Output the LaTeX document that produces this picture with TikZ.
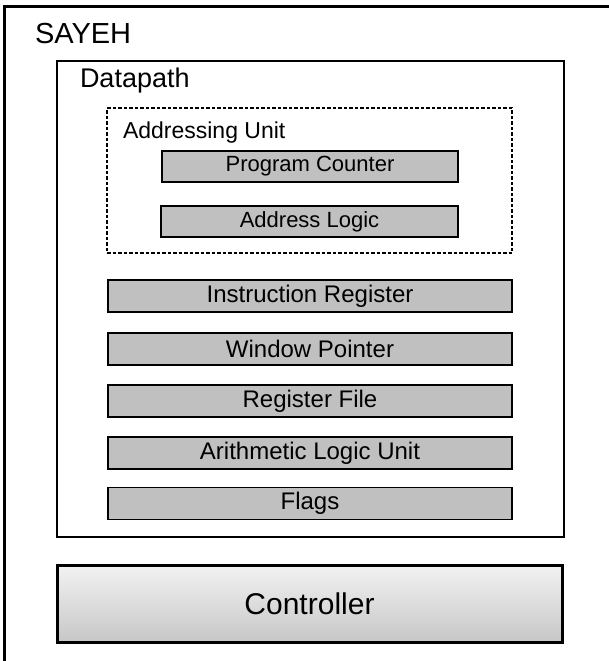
\documentclass[tikz,border=0pt]{standalone}
\usepackage{fontspec}
\setmainfont{Liberation Sans}
\begin{document}
\begin{tikzpicture}[x=1pt,y=-1pt,
  grayblk/.style={draw=black, line width=1.6pt, fill=graybox, inner sep=0pt, outer sep=0pt},
  smallblk/.style={grayblk, font=\fontsize{22}{26}\selectfont},
  bigblk/.style={grayblk, minimum width=404pt, minimum height=32pt, font=\fontsize{24}{28}\selectfont},
  lbl/.style={inner sep=0pt, outer sep=0pt, anchor=base west}
]
\definecolor{graybox}{HTML}{C0C0C0}
\useasboundingbox (0,0) rectangle (609,661);
\clip (0,0) rectangle (609,661);
% outer SAYEH box (extends past the picture edges)
\draw[line width=3pt] (4.5,6.5) rectangle (640,700);
\node[lbl, font=\fontsize{29}{33}\selectfont] (sayeh) at (35,44) {SAYEH};
% Datapath
\node[draw, line width=2pt, minimum width=507pt, minimum height=476pt, inner sep=0pt] (dp) at (310.5,299) {};
\node[lbl, font=\fontsize{27}{31}\selectfont] (dplbl) at (80,87) {Datapath};
% Addressing Unit
\node[draw, line width=1.3pt, dash pattern=on 3.5pt off 2pt, minimum width=405pt, minimum height=145pt, inner sep=0pt] (au) at (309.5,180.5) {};
\node[lbl, font=\fontsize{23}{27}\selectfont] (aulbl) at (123,138) {Addressing Unit};
\node[smallblk, minimum width=296pt, minimum height=31pt] (pc) at (310,166.5) {Program Counter};
\node[smallblk, minimum width=297pt, minimum height=31pt] (al) at (309.5,221.5) {Address Logic};
% Datapath blocks
\node[bigblk] (ir) at (310,296) {Instruction Register};
\node[bigblk] (wp) at (310,349) {Window Pointer};
\node[bigblk] (rf) at (310,401) {Register File};
\node[bigblk] (alu) at (310,453) {Arithmetic Logic Unit};
\node[bigblk] (fl) at (310,503.5) {Flags};
% Controller
\node[draw, line width=3pt, top color=black!5, bottom color=black!22, minimum width=505pt, minimum height=77pt, inner sep=0pt, font=\fontsize{30}{34}\selectfont] (ctrl) at (309.5,603.5) {Controller};
\end{tikzpicture}
\end{document}
